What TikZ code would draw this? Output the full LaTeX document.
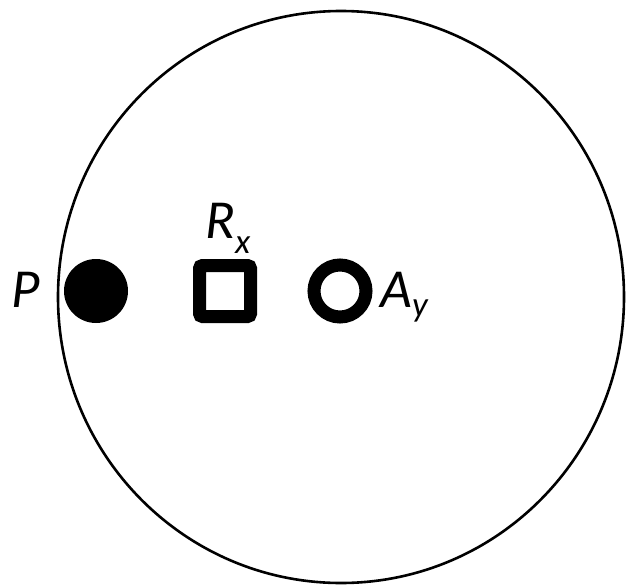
\documentclass[tikz,border=0pt]{standalone}
\usepackage{fontspec}
\setmainfont{Carlito}
\begin{document}
\begin{tikzpicture}[x=1pt,y=-1pt,
  bigfont/.style={font=\fontsize{55}{60}\selectfont\itshape},
  lbl/.style={bigfont, inner sep=0pt, anchor=base west},
  dotmark/.style={circle, fill=black, minimum size=64pt, inner sep=0pt},
  boxmark/.style={draw=black, line width=13pt, minimum size=51pt, inner sep=0pt, rounded corners=3pt},
  ringmark/.style={circle, draw=black, line width=13pt, minimum size=52pt, inner sep=0pt}]
  \newcommand{\subfont}{\fontsize{35}{35}\selectfont\itshape}
  \useasboundingbox (0,0) rectangle (626,586);
  % outer boundary
  \draw[line width=2.6pt] (341,297) ellipse [x radius=283, y radius=286];
  % markers
  \node[dotmark]  (P) at (96,291) {};
  \node[boxmark]  (R) at (225,291) {};
  \node[ringmark] (A) at (340,291) {};
  % labels
  \node[lbl] (Plbl) at (11,307) {P};
  \node[lbl] (Rlbl) at (205,238) {R\raisebox{-15pt}{\subfont x}};
  \node[lbl] (Albl) at (380,307) {A\raisebox{-9pt}{\subfont y}};
\end{tikzpicture}
\end{document}
